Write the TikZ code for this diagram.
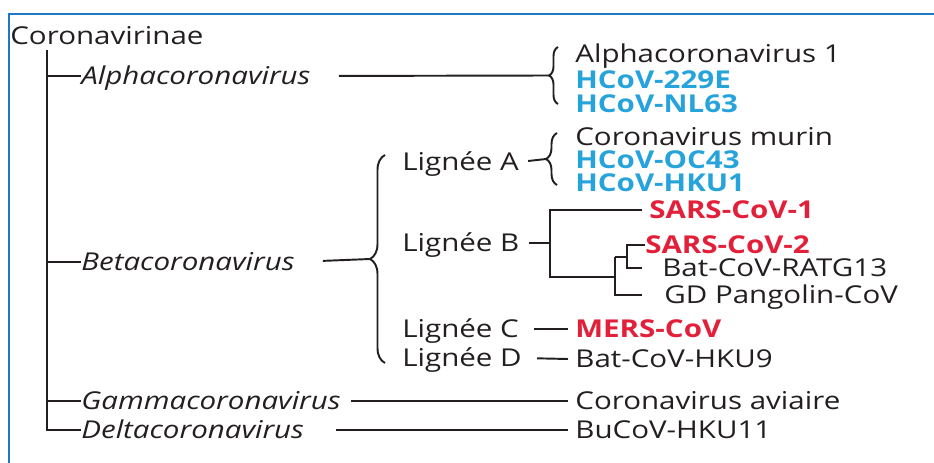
\documentclass[tikz,border=0pt]{standalone}
\usepackage{fontspec}
\setmainfont{Open Sans}[FakeStretch=1.2]
\usetikzlibrary{decorations.pathreplacing}
\definecolor{ink}{RGB}{35,31,32}
\definecolor{hcovblue}{RGB}{39,163,220}
\definecolor{sarsred}{RGB}{226,32,58}
\definecolor{frameblue}{RGB}{30,120,200}
\newcommand{\labfont}{\fontsize{14}{16}\selectfont}
\tikzset{
  taxon/.style={anchor=west, inner xsep=0pt, inner ysep=0pt, text=ink,
    font=\labfont, text height=14pt, text depth=4pt},
  genus/.style={taxon, font=\labfont\itshape},
  leaf/.style={taxon, inner xsep=4pt},
  zoonose/.style={leaf, font=\labfont\bfseries, text=sarsred},
  tree/.style={draw=ink, line width=1.1pt},
  curly/.style={tree, decorate, decoration={brace, amplitude=#1}},
}
\begin{document}
\begin{tikzpicture}[x=0.02cm, y=-0.02cm]
  \useasboundingbox (0,0) rectangle (934,463);
  \draw[frameblue, line width=0.05cm] (9,463) -- (9,14) -- (934,14);

  % sous-famille et genres
  \node[taxon] (root) at (10,36) {Coronavirinae};
  \coordinate (trunk) at (47,50);
  \node[genus] (alpha) at (81,76) {Alphacoronavirus};
  \node[genus] (beta) at (81,262) {Betacoronavirus};
  \node[genus] (gamma) at (81,401) {Gammacoronavirus};
  \node[genus] (delta) at (81,430) {Deltacoronavirus};
  \draw[tree] (trunk) |- (delta.west);
  \draw[tree] (trunk |- alpha) -- (alpha.west);
  \draw[tree] (trunk |- beta) -- (beta.west);
  \draw[tree] (trunk |- gamma) -- (gamma.west);

  % Alphacoronavirus
  \draw[curly=0.18cm] (558,104) -- (558,47);
  \coordinate (alphatip) at (549,75.5);
  \draw[tree, shorten <=0.56cm] (alpha.east) -- (alphatip);
  \node[taxon] (alpha1) at (575,54) {Alphacoronavirus 1};
  \node[taxon, font=\labfont\bfseries, text=hcovblue] (e229) at (575,80) {HCoV-229E};
  \node[taxon, font=\labfont\bfseries, text=hcovblue] (nl63) at (575,104) {HCoV-NL63};

  % Betacoronavirus
  \draw[curly=0.3cm] (385,363) -- (385,155);
  \coordinate (betatip) at (370,259);
  \draw[tree, shorten <=0.56cm] (beta.east) -- (betatip);
  \node[taxon] (ligA) at (402,162) {Lignée A};
  \node[taxon] (ligB) at (402,243) {Lignée B};
  \node[taxon] (ligC) at (402,329) {Lignée C};
  \node[taxon] (ligD) at (402,358) {Lignée D};

  % Lignee A
  \draw[curly=0.22cm] (557,185) -- (557,133);
  \coordinate (atip) at (546,159);
  \draw[tree, shorten <=0.18cm] (ligA.east) -- (atip);
  \node[taxon] (murin) at (575,137) {Coronavirus murin};
  \node[taxon, font=\labfont\bfseries, text=hcovblue] (oc43) at (575,160) {HCoV-OC43};
  \node[taxon, font=\labfont\bfseries, text=hcovblue] (hku1) at (575,183) {HCoV-HKU1};

  % Lignee B
  \coordinate (jB) at (550,243);
  \coordinate (jS) at (615,277);
  \coordinate (jR) at (627,257);
  \node[zoonose] (sars1) at (642,210) {SARS-CoV-1};
  \node[zoonose, inner xsep=0pt] (sars2) at (645,245) {SARS-CoV-2};
  \node[taxon] (ratg13) at (662,268) {Bat-CoV-RATG13};
  \node[taxon] (pangolin) at (664,295) {GD Pangolin-CoV};
  \draw[tree, shorten <=0.18cm] (ligB.east) -- (jB);
  \draw[tree] (sars1.west) -| (jB) |- (jS);
  \draw[tree, shorten >=0.44cm] (jS |- jR) |- (pangolin.west);
  \draw[tree] (jS |- jR) -- (jR);
  \draw[tree] (sars2.west) -| (jR);
  \draw[tree, shorten >=0.4cm] (jR) |- (ratg13.west);

  % Lignees C et D
  \node[zoonose] (mers) at (568,329) {MERS-CoV};
  \node[leaf] (hku9) at (568,359) {Bat-CoV-HKU9};
  \draw[tree, shorten <=0.3cm] (ligC.east) -- (mers.west);
  \draw[tree, shorten <=0.3cm] (ligD.east) -- (hku9.west);

  % Gamma et Delta
  \node[leaf] (aviaire) at (568,401) {Coronavirus aviaire};
  \node[leaf] (hku11) at (568,430) {BuCoV-HKU11};
  \draw[tree, shorten <=0.2cm] (gamma.east) -- (aviaire.west);
  \draw[tree, shorten <=0.64cm] (delta.east) -- (hku11.west);
\end{tikzpicture}
\end{document}
